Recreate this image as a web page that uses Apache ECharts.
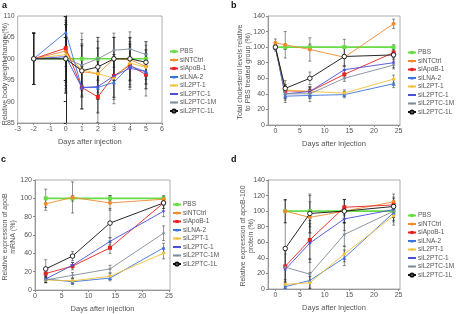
<!DOCTYPE html>
<html>
<head>
<meta charset="utf-8">
<script src="https://cdn.jsdelivr.net/npm/echarts@6/dist/echarts.min.js"></script>
<style>
html, body { margin: 0; padding: 0; background: #fff; }
#main { width: 456px; height: 314px; }
</style>
</head>
<body>
<div id="main"></div>
<script>
var names = ['PBS', 'siNTCtrl', 'siApoB-1', 'siLNA-2', 'siL2PT-1', 'siL2PTC-1', 'siL2PTC-1M', 'siL2PTC-1L'];

// a: body weight
var daysA = [-2, 0, 1, 2, 3, 4, 5];
var weightVals = [
    [100, 100, 100, 100, 100, 100, 100],
    [100, 101.8, 97, 96.5, 100, 99.8, 98.2],
    [100, 102.5, 93.3, 91.1, 96, 98.5, 96.3],
    [100, 106.2, 93.3, 93.3, 94.5, 98.3, 97],
    [100, 101, 97.5, 96.5, 95.5, 99, 98],
    [100, 100.5, 93.3, 93.5, 96, 97.8, 97],
    [100, 100, 98.5, 100, 102, 102.3, 101],
    [100, 100, 97.2, 98.1, 100, 100, 99.2]
];
var weightErr = [
    [6, 8, 6, 5, 5, 5, 4],
    [6, 8, 6, 6, 5, 5, 4],
    [6, 8, 5, 6, 5, 5, 5],
    [6, 8, 5, 6, 5, 5, 4],
    [6, 8, 6, 6, 5, 5, 4],
    [6, 8, 5, 6, 5, 5, 4],
    [6, 8, 6, 5, 4, 4, 3],
    [6, 8, 6, 6, 5, 5, 4]
];

// b: total cholesterol
var daysB = [0, 2, 7, 14, 24];
var cholVals = [
    [100, 100, 100, 100, 100],
    [105.5, 103, 97, 87, 130],
    [100, 44, 43, 65, 93],
    [100, 37, 38, 39, 53],
    [102, 45, 43, 41, 59],
    [100, 40, 43, 71, 80],
    [100, 40, 40, 60, 77],
    [100, 47, 60, 88, 90]
];
var cholErr = [
    [5, 3, 4, 10, 3],
    [5, 17, 15, 12, 6],
    [3, 8, 6, 5, 6],
    [3, 8, 8, 4, 5],
    [3, 6, 6, 4, 5],
    [3, 8, 6, 5, 6],
    [3, 6, 6, 4, 5],
    [3, 10, 8, 12, 6]
];

// c: apoB mRNA
var daysC = [2, 7, 14, 24];
var mrnaVals = [
    [100, 100, 100, 100],
    [94, 101, 95, 99],
    [18, 26, 46, 95],
    [12, 9, 13, 46],
    [11, 10, 15, 40],
    [12, 27, 53, 86],
    [11, 16, 23, 62],
    [23, 37, 73, 95]
];
var mrnaErr = [
    [10, 3, 3, 2],
    [7, 17, 8, 4],
    [4, 4, 6, 6],
    [3, 3, 3, 5],
    [3, 3, 3, 6],
    [4, 3, 4, 6],
    [3, 3, 4, 8],
    [10, 5, 16, 6]
];

// d: apoB-100 protein
var daysD = [2, 7, 14, 24];
var protVals = [
    [100, 100, 100, 100],
    [100, 92, 100, 112],
    [29, 63, 105, 108],
    [3, 11, 40, 98],
    [6, 8, 45, 94],
    [25, 59, 90, 102],
    [28, 19, 70, 100],
    [52, 97, 100, 106]
];
var protErr = [
    [15, 20, 15, 8],
    [15, 20, 15, 10],
    [20, 25, 10, 10],
    [5, 10, 10, 12],
    [6, 8, 10, 12],
    [20, 25, 15, 10],
    [25, 20, 15, 12],
    [62, 25, 15, 10]
];

var ticks25 = [0, 5, 10, 15, 20, 25];

var colors = ['#66dd44', '#f08a2c', '#e5231f', '#3d73dc', '#f2c03a', '#4b4fd8', '#7f8c99', '#111111'];
var starPts = [];
for (var k = 0; k < 12; k++) {
    var r = k % 2 ? 4 : 10;
    var ang = Math.PI * k / 6;
    starPts.push((r * Math.sin(ang)).toFixed(2) + ',' + (-r * Math.cos(ang)).toFixed(2));
}
var star = 'path://M' + starPts.join(' L') + ' Z';
var symbols = ['rect', 'circle', 'rect', 'triangle', 'diamond', star, star, 'circle'];
var font = 'Liberation Sans, Arial, sans-serif';
var txt = '#555';

function lineSeries(idx, days, vals) {
    return vals.map(function (row, s) {
        var open = s == 7;
        return {
            name: names[s], type: 'line', xAxisIndex: idx, yAxisIndex: idx,
            data: row.map(function (v, i) { return [days[i], v]; }),
            symbol: symbols[s], symbolSize: open ? 4.5 : 4,
            itemStyle: { color: open ? '#fff' : colors[s], borderColor: colors[s], borderWidth: open ? 0.9 : 0 },
            lineStyle: { color: colors[s], width: s == 0 ? 1.6 : 0.9 },
            z: 3 + s, animation: false
        };
    });
}

function errSeries(idx, days, vals, errs) {
    var data = [];
    vals.forEach(function (row, s) {
        row.forEach(function (v, i) {
            data.push([days[i], v - errs[s][i], v + errs[s][i]]);
        });
    });
    return {
        type: 'custom', xAxisIndex: idx, yAxisIndex: idx, silent: true, z: 2, clip: true,
        encode: { x: 0, y: [1, 2] },
        renderItem: function (params, api) {
            var x = api.value(0);
            var lo = api.coord([x, api.value(1)]);
            var hi = api.coord([x, api.value(2)]);
            var w = 1.5;
            var st = { stroke: '#222', lineWidth: 0.5 };
            return {
                type: 'group', children: [
                    { type: 'line', shape: { x1: hi[0], y1: hi[1], x2: lo[0], y2: lo[1] }, style: st },
                    { type: 'line', shape: { x1: hi[0] - w, y1: hi[1], x2: hi[0] + w, y2: hi[1] }, style: st },
                    { type: 'line', shape: { x1: lo[0] - w, y1: lo[1], x2: lo[0] + w, y2: lo[1] }, style: st }
                ]
            };
        },
        data: data, animation: false
    };
}

function xAx(idx, min, max, interval, custom) {
    var ax = {
        type: 'value', gridIndex: idx, min: min, max: max,
        name: 'Days after injection', nameLocation: 'middle', nameGap: 15,
        nameTextStyle: { fontSize: 7.5, color: txt, fontFamily: font },
        axisLine: { onZero: false, lineStyle: { color: '#888', width: 0.8 } },
        axisTick: { length: 2, lineStyle: { color: '#888' } },
        axisLabel: { fontSize: 7, color: txt, fontFamily: font, margin: 3 },
        splitLine: { show: false }
    };
    if (interval) ax.interval = interval;
    if (custom) {
        ax.axisTick.customValues = custom;
        ax.axisLabel.customValues = custom;
    }
    return ax;
}

function yAx(idx, min, max, interval, onZero) {
    return {
        type: 'value', gridIndex: idx, min: min, max: max, interval: interval,
        axisLine: { show: true, onZero: onZero, lineStyle: { color: onZero ? '#222' : '#888', width: onZero ? 1 : 0.8 } },
        axisTick: { show: true, length: 2, lineStyle: { color: onZero ? '#222' : '#888' } },
        axisLabel: { fontSize: 7, color: txt, fontFamily: font, margin: 3 },
        splitLine: { show: false }
    };
}

function legend(left, top) {
    return {
        orient: 'vertical', left: left, top: top, data: names, padding: 0,
        itemWidth: 8, itemHeight: 4, itemGap: 1.5,
        textStyle: { fontSize: 6.5, color: txt, fontFamily: font, padding: [0, 0, 0, -3] }
    };
}

function gridBox(left, top, width, height) {
    return { left: left, top: top, width: width, height: height, show: true, borderColor: '#999', borderWidth: 0.8 };
}

function label(x, y, text, bold, rot) {
    return {
        type: 'text', x: x, y: y, rotation: rot ? Math.PI / 2 : 0,
        style: {
            text: text, fill: bold ? '#111' : txt, font: (bold ? 'bold 9px ' : '7px ') + font,
            align: rot ? 'center' : 'left', verticalAlign: rot ? 'middle' : 'top', lineHeight: 8
        }
    };
}

var chart = echarts.init(document.getElementById('main'), null, { renderer: 'canvas' });
var option = {
    animation: false,
    textStyle: { fontFamily: font },
    grid: [
        gridBox(13, 16, 149, 107),
        gridBox(268, 16, 132, 109),
        gridBox(35, 180, 135, 110),
        gridBox(268, 180, 132, 109)
    ],
    xAxis: [
        xAx(0, -3, 6, 1),
        xAx(1, -1.5, 25.3, null, ticks25),
        xAx(2, 0, 25.2, null, ticks25),
        xAx(3, -1.5, 25.3, null, ticks25)
    ],
    yAxis: [
        yAx(0, 85, 110, 5, true),
        yAx(1, 0, 140, 20, false),
        yAx(2, 0, 120, 20, false),
        yAx(3, 0, 140, 20, false)
    ],
    legend: [legend(169, 48), legend(407, 49), legend(172, 201), legend(407, 212)],
    graphic: [
        label(2, 2, 'a', true), label(231, 2, 'b', true), label(1, 156, 'c', true), label(231, 156, 'd', true),
        label(5.5, 74, 'Relative body weight change (%)', false, true),
        label(244.5, 72, 'Total cholesterol levels relative\nto PBS treated group (%)', false, true),
        label(9.5, 237, 'Relative expression of apoB\nmRNA (%)', false, true),
        label(247, 236, 'Relative expression of apoB-100\nprotein (%)', false, true)
    ],
    series: [].concat(
        [errSeries(0, daysA, weightVals, weightErr)], lineSeries(0, daysA, weightVals),
        [errSeries(1, daysB, cholVals, cholErr)], lineSeries(1, daysB, cholVals),
        [errSeries(2, daysC, mrnaVals, mrnaErr)], lineSeries(2, daysC, mrnaVals),
        [errSeries(3, daysD, protVals, protErr)], lineSeries(3, daysD, protVals)
    )
};
chart.setOption(option);
</script>
</body>
</html>
